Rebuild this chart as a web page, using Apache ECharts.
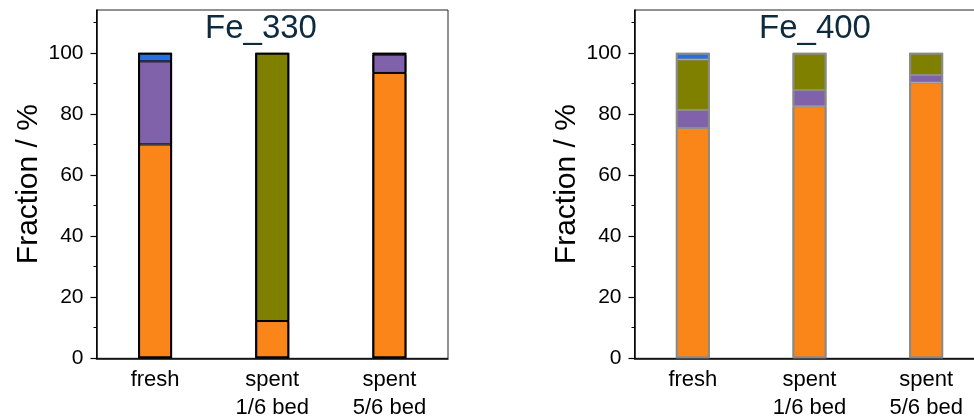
<!DOCTYPE html>
<html>
<head>
<meta charset="utf-8">
<script src="https://cdn.jsdelivr.net/npm/echarts@6/dist/echarts.min.js"></script>
<style>
  html, body { margin: 0; padding: 0; background: #fff; }
  #chart { width: 974px; height: 416px; }
</style>
</head>
<body>
<div id="chart"></div>
<script>
// Sample categories (x axis)
const categories = ['fresh', 'spent\n1/6 bed', 'spent\n5/6 bed'];

// Fe_330: phase fractions in %, stacked bottom to top
const fe330Orange = [70.0, 12.2, 93.4];
const fe330Purple = [27.2, 0, 6.0];
const fe330Olive  = [0, 87.8, 0];
const fe330Blue   = [2.8, 0, 0];
const fe330Black  = [0, 0, 0.6];

// Fe_400: phase fractions in %, stacked bottom to top
const fe400Orange = [75.4, 82.5, 90.3];
const fe400Purple = [5.9, 5.3, 2.4];
const fe400Olive  = [16.5, 12.2, 7.3];
const fe400Blue   = [2.2, 0, 0];

// Axis ticks
const majorTicks = [0, 20, 40, 60, 80, 100];
const minorTicks = [10, 30, 50, 70, 90, 110];
const panelTitles = ['Fe_330', 'Fe_400'];

const FONT = "'Liberation Sans', Arial, sans-serif";
const colors = { orange: '#fa8518', purple: '#8062aa', olive: '#808000', blue: '#2a6fe2', black: '#111111' };
const Y_MAX = 114;
const BAR_W = 34;

const grids = [
  { left: 96.5, top: 10, width: 351.5, height: 348.3 },
  { left: 634.5, top: 10, width: 350, height: 348.3 }
];

const xAxes = [];
const yAxes = [];
grids.forEach((g, i) => {
  // main category axis with ticks under each bar
  xAxes.push({
    type: 'category', gridIndex: i, data: categories, boundaryGap: true,
    axisLine: { lineStyle: { color: '#000', width: 1.5 } },
    axisTick: { alignWithLabel: true, length: 5, lineStyle: { color: '#000', width: 1.2 } },
    axisLabel: { color: '#000', fontFamily: FONT, fontSize: 22, lineHeight: 28, margin: 8 },
    splitLine: { show: false }
  });
  // short ticks between categories
  xAxes.push({
    type: 'category', gridIndex: i, data: categories, boundaryGap: true, position: 'bottom',
    axisLine: { show: false },
    axisTick: { length: 2.5, lineStyle: { color: '#000', width: 1 } },
    axisLabel: { show: false },
    splitLine: { show: false }
  });
  yAxes.push({
    type: 'value', gridIndex: i, min: 0, max: Y_MAX,
    name: 'Fraction / %', nameLocation: 'middle', nameGap: 53,
    nameTextStyle: { color: '#000', fontFamily: FONT, fontSize: 30 },
    axisLine: { show: true, lineStyle: { color: '#000', width: 1.5 } },
    axisTick: { show: true, length: 6, customValues: majorTicks, lineStyle: { color: '#000', width: 1.2 } },
    axisLabel: { color: '#000', fontFamily: FONT, fontSize: 21, margin: 13, customValues: majorTicks },
    splitLine: { show: false }
  });
  yAxes.push({
    type: 'value', gridIndex: i, min: 0, max: Y_MAX, position: 'left',
    axisLine: { show: false },
    axisTick: { show: true, length: 3, customValues: minorTicks, lineStyle: { color: '#000', width: 1 } },
    axisLabel: { show: false },
    splitLine: { show: false }
  });
});

// empty segments are drawn without an outline
function items(arr) {
  return arr.map(v => (v === 0 ? { value: 0, itemStyle: { borderWidth: 0, opacity: 0 } } : v));
}

function panelSeries(panel, parts, border) {
  const list = parts.map(([name, values, color]) => ({
    name: name, type: 'bar', stack: 'p' + panel,
    xAxisIndex: panel * 2, yAxisIndex: panel * 2,
    barWidth: BAR_W, barGap: '-100%',
    data: items(values),
    itemStyle: { color: color, borderColor: border, borderWidth: 1 },
    emphasis: { disabled: true }
  }));
  // outer outline around each whole column
  const totals = categories.map((_, k) => parts.reduce((s, p) => s + p[1][k], 0));
  list.push({
    name: 'outline', type: 'bar',
    xAxisIndex: panel * 2, yAxisIndex: panel * 2,
    barWidth: BAR_W, barGap: '-100%', z: 3,
    data: totals,
    itemStyle: { color: 'rgba(0,0,0,0)', borderColor: border, borderWidth: 2 },
    emphasis: { disabled: true }
  });
  return list;
}

const series = [].concat(
  panelSeries(0, [
    ['orange', fe330Orange, colors.orange],
    ['purple', fe330Purple, colors.purple],
    ['olive', fe330Olive, colors.olive],
    ['blue', fe330Blue, colors.blue],
    ['black', fe330Black, colors.black]
  ], '#000'),
  panelSeries(1, [
    ['orange', fe400Orange, colors.orange],
    ['purple', fe400Purple, colors.purple],
    ['olive', fe400Olive, colors.olive],
    ['blue', fe400Blue, colors.blue]
  ], '#8a8a8a')
);

const chart = echarts.init(document.getElementById('chart'), null, { renderer: 'canvas' });
chart.setOption({
  animation: false,
  backgroundColor: '#fff',
  grid: grids.map(g => Object.assign({
    show: true, borderColor: '#222', borderWidth: 1, backgroundColor: 'transparent',
    containLabel: false, outerBoundsMode: 'none'
  }, g)),
  xAxis: xAxes,
  yAxis: yAxes,
  series: series,
  graphic: panelTitles.map((t, i) => ({
    type: 'text', x: [261, 815][i], y: 29, silent: true,
    style: { text: t, fill: '#0e2b3e', font: '33px ' + FONT, align: 'center', verticalAlign: 'middle' }
  }))
});
</script>
</body>
</html>
